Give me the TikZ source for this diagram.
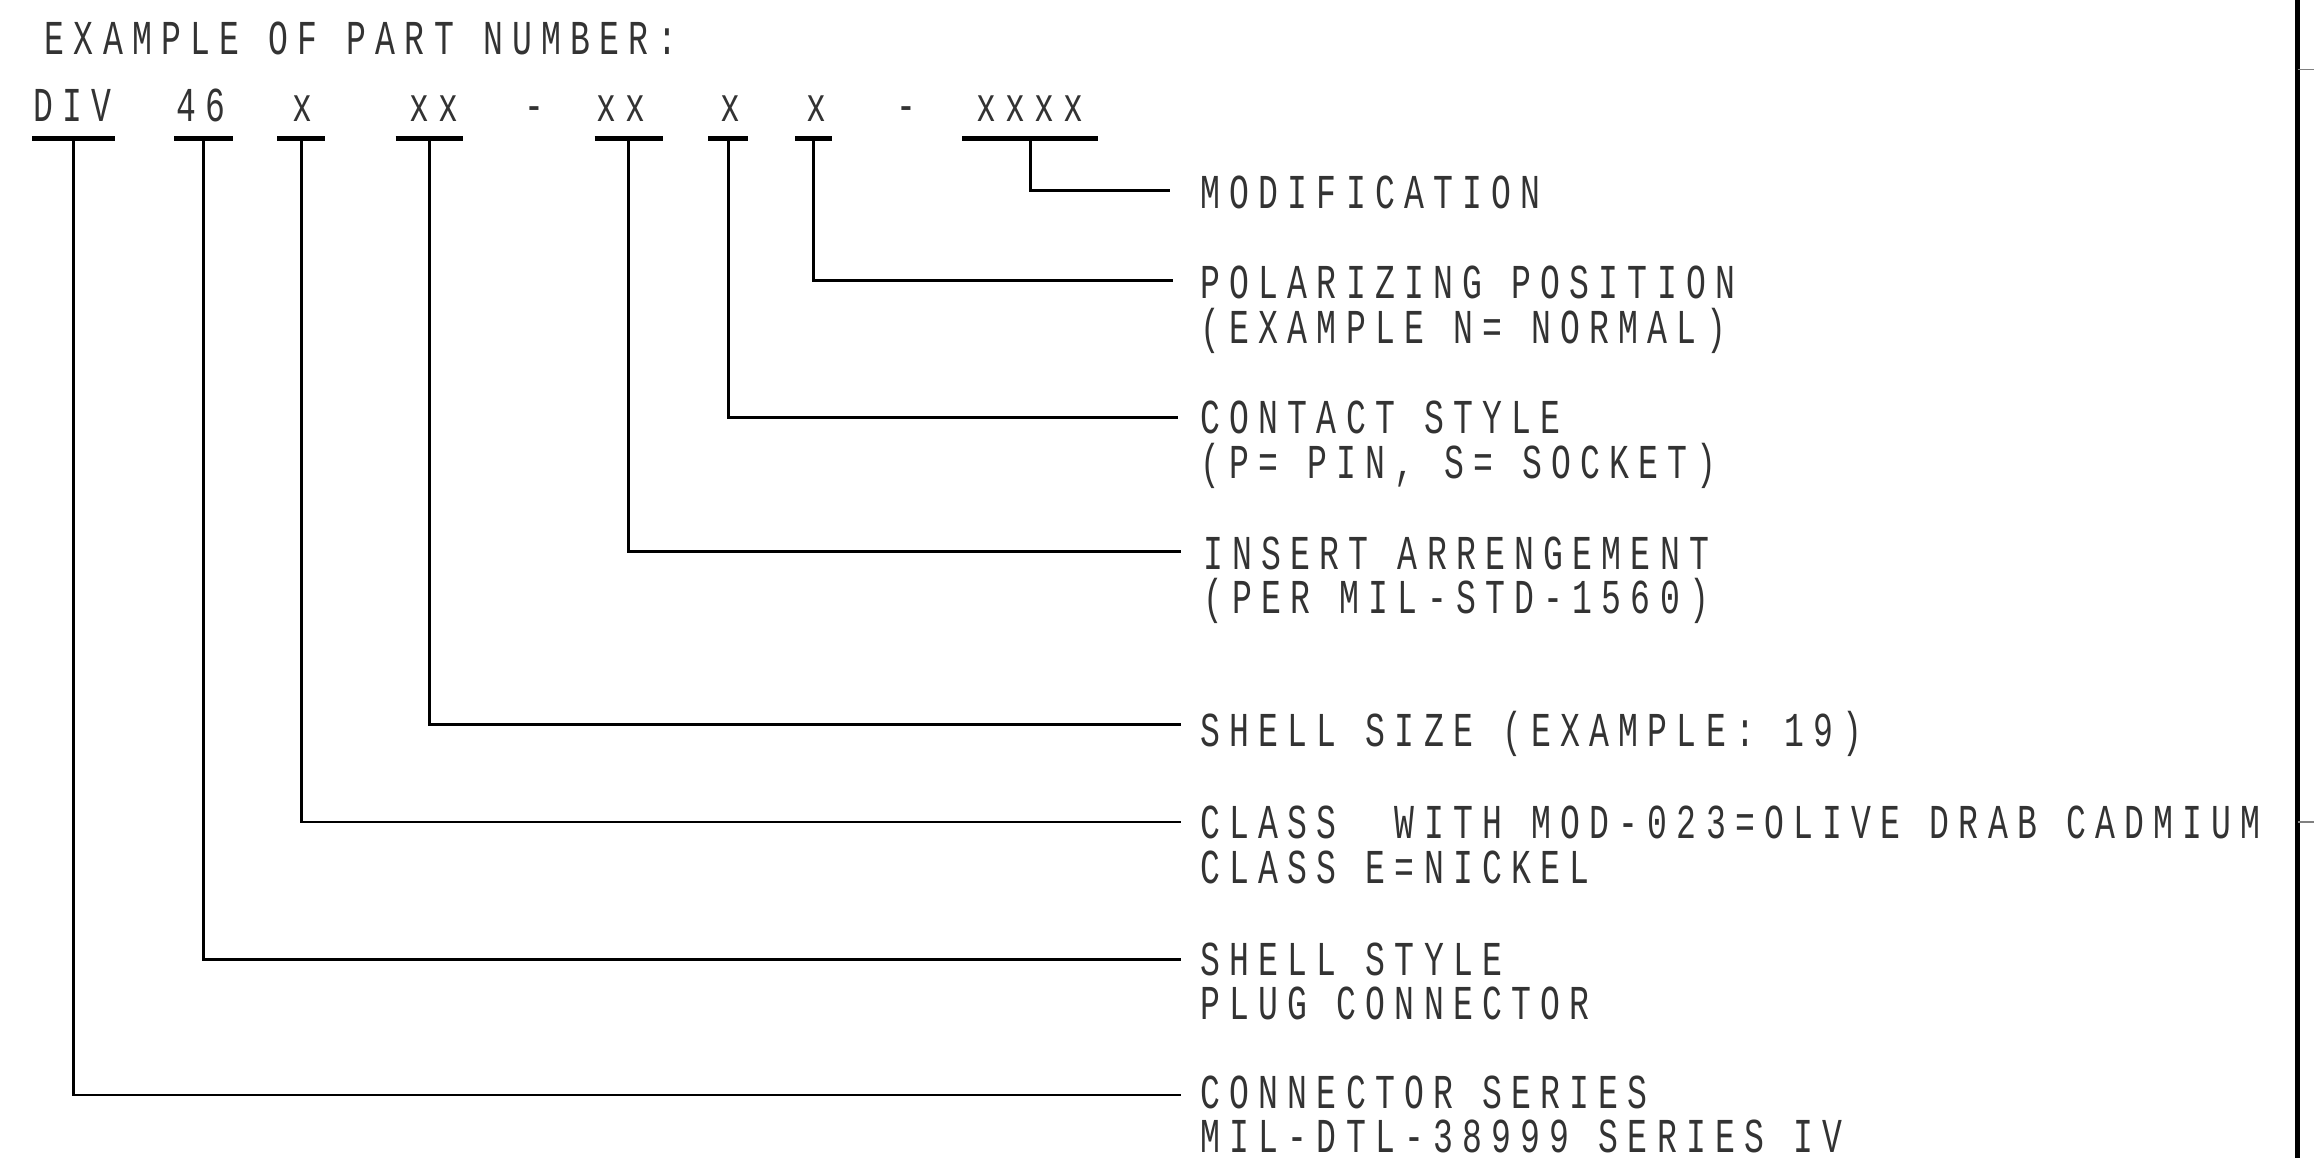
\documentclass[tikz,border=0pt]{standalone}
\usepackage{fontspec}
\newfontfamily\cadfont[FakeStretch=0.68,LetterSpace=19]{Liberation Mono}
\begin{document}
\begin{tikzpicture}[x=0.5pt,y=-0.5pt,
  txt/.style={font=\cadfont\fontsize{16.5}{16.5}\selectfont, text=black!80, inner sep=0pt, text height=12pt, text depth=0pt, anchor=base west},
  lead/.style={line width=1pt},
  bar/.style={line width=1.5pt},
  frame/.style={line width=1.8pt},
  tick/.style={gray,line width=0.5pt}]
\useasboundingbox (0,0) rectangle (1568,785);
% title
\node[txt] (title) at (30,37) {EXAMPLE OF PART NUMBER:};
% part number tokens
\node[txt] (pDIV) at (22,82) {DIV};
\node[txt] (p46) at (119,82) {46};
\node[txt] (pA) at (198,82) {x};
\node[txt] (pB) at (277,82) {xx};
\node[txt] (d1) at (355,82) {-};
\node[txt] (pC) at (404,82) {xx};
\node[txt] (pD) at (488,82) {x};
\node[txt] (pE) at (546,82) {x};
\node[txt] (d2) at (607,82) {-};
\node[txt] (pF) at (661,82) {xxxx};
% bars
\coordinate (bDIV) at (50,94);
\coordinate (b46) at (138,94);
\coordinate (bA) at (204,94);
\coordinate (bB) at (291,94);
\coordinate (bC) at (426,94);
\coordinate (bD) at (493.5,94);
\coordinate (bE) at (551.5,94);
\coordinate (bF) at (698,94);
\draw[bar] ([xshift=-14pt]bDIV) -- ([xshift=14pt]bDIV);
\draw[bar] ([xshift=-10pt]b46) -- ([xshift=10pt]b46);
\draw[bar] ([xshift=-8pt]bA) -- ([xshift=8pt]bA);
\draw[bar] ([xshift=-11.5pt]bB) -- ([xshift=11.5pt]bB);
\draw[bar] ([xshift=-11.5pt]bC) -- ([xshift=11.5pt]bC);
\draw[bar] ([xshift=-6.75pt]bD) -- ([xshift=6.75pt]bD);
\draw[bar] ([xshift=-6.25pt]bE) -- ([xshift=6.25pt]bE);
\draw[bar] ([xshift=-23pt]bF) -- ([xshift=23pt]bF);
% labels
\node[txt] (lF) at (813,141) {MODIFICATION};
\node[txt] (lE) at (813,202) {POLARIZING POSITION};
\node[txt] (lE2) at (813,233) {(EXAMPLE N= NORMAL)};
\node[txt] (lD) at (813,294) {CONTACT STYLE};
\node[txt] (lD2) at (813,324) {(P= PIN, S= SOCKET)};
\node[txt] (lC) at (815,386) {INSERT ARRENGEMENT};
\node[txt] (lC2) at (815,416) {(PER MIL-STD-1560)};
\node[txt] (lB) at (813,506) {SHELL SIZE (EXAMPLE: 19)};
\node[txt] (lA) at (813,568) {CLASS~~WITH MOD-023=OLIVE DRAB CADMIUM};
\node[txt] (lA2) at (813,599) {CLASS E=NICKEL};
\node[txt] (l46) at (813,661) {SHELL STYLE};
\node[txt] (l462) at (813,691) {PLUG CONNECTOR};
\node[txt] (lDIV) at (813,751) {CONNECTOR SERIES};
\node[txt] (lDIV2) at (813,781) {MIL-DTL-38999 SERIES IV};
% leader ends
\coordinate (eF) at (793,129);
\coordinate (eE) at (795,190);
\coordinate (eD) at (798,283);
\coordinate (eC) at (800,374);
\coordinate (eB) at (800,491);
\coordinate (eA) at (800,557);
\coordinate (e46) at (800,650);
\coordinate (eDIV) at (800,742);
\draw[lead] (bF) |- (eF);
\draw[lead] (bE) |- (eE);
\draw[lead] (bD) |- (eD);
\draw[lead] (bC) |- (eC);
\draw[lead] (bB) |- (eB);
\draw[lead] (bA) |- (eA);
\draw[lead] (b46) |- (e46);
\draw[lead] (bDIV) |- (eDIV);
% right frame
\coordinate (fT) at (1557,0);
\coordinate (fB) at (1557,785);
\draw[frame] (fT) -- (fB);
\coordinate (t1) at (1557,47);
\coordinate (t1e) at (1568,47);
\coordinate (t2) at (1557,557);
\coordinate (t2e) at (1568,557);
\draw[tick] (t1) -- (t1e);
\draw[tick] (t2) -- (t2e);
\end{tikzpicture}
\end{document}
